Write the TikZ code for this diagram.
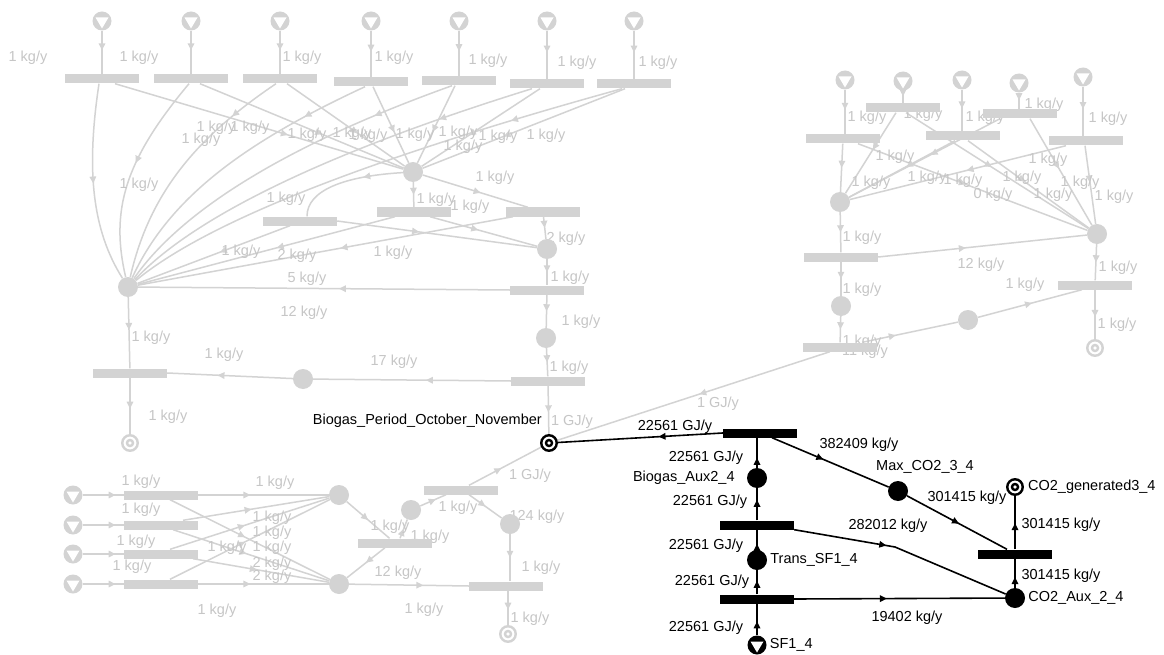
\documentclass[tikz,border=0pt]{standalone}
\usepackage{fontspec}
\setmainfont{Liberation Sans}
\usetikzlibrary{calc,arrows.meta,decorations.markings}
\definecolor{pale}{RGB}{211,211,211}
\definecolor{paletext}{RGB}{198,198,198}
\pgfdeclarelayer{bg}
\pgfsetlayers{bg,main}

\begin{document}
\begin{tikzpicture}[x=1pt,y=-1pt,font=\fontsize{14.5}{17}\selectfont,
	opunit/.style={rectangle,fill=#1,minimum width=74pt,minimum height=9pt,inner sep=0pt},
	matnode/.style={circle,fill=#1,minimum size=20pt,inner sep=0pt},
	rawnode/.style={circle,fill=#1,minimum size=19pt,inner sep=0pt,path picture={
		\fill[white] ([shift={(-6.5pt,3.5pt)}]path picture bounding box.center) -- ++(13pt,0pt)
			-- ([shift={(0pt,-7.5pt)}]path picture bounding box.center) -- cycle;}},
	prodnode/.style={circle,draw=#1,line width=2.4pt,minimum size=15.5pt,inner sep=0pt,path picture={
		\draw[#1,line width=2.4pt] (path picture bounding box.center) circle[radius=3pt];}},
	gflow/.style={pale,line width=1.5pt,postaction={decorate,decoration={markings,
		mark=at position #1 with {\arrow{Triangle[length=7pt,width=6.5pt]}}}}},
	gflow/.default=0.5,
	kflow/.style={black,line width=1.6pt,postaction={decorate,decoration={markings,
		mark=at position #1 with {\arrow{Triangle[length=7pt,width=6.5pt]}}}}},
	kflow/.default=0.5,
	gtxt/.style={text=paletext,inner sep=0pt},
	ktxt/.style={text=black,inner sep=0pt}]
\useasboundingbox (0,0) rectangle (1164,655);

% upper left network
\foreach \i/\x/\y in {1/102/79,2/191/79,3/280/79,4/371/82,5/459/81,6/547/84,7/634/84}{
	\node[rawnode=pale] (tl-r\i) at (\x,21) {};
	\node[opunit=pale] (tl-u\i) at (\x,\y) {};
}
\node[matnode=pale] (tl-m1) at (128,287) {};
\node[matnode=pale] (tl-m2) at (413,172) {};
\node[opunit=pale] (tl-u8) at (300,221) {};
\node[opunit=pale] (tl-u9) at (414,212) {};
\node[opunit=pale] (tl-u10) at (543,212) {};
\node[matnode=pale] (tl-m3) at (547,249) {};
\node[opunit=pale] (tl-u11) at (547,290) {};
\node[matnode=pale] (tl-m4) at (546,338) {};
\node[opunit=pale] (tl-u12) at (548,381) {};
\node[matnode=pale] (tl-m5) at (303,379) {};
\node[opunit=pale] (tl-u13) at (130,373) {};
\node[prodnode=pale] (tl-p) at (130,443) {};

% upper right network
\foreach \i/\x/\y/\ux/\uy in {1/845/80/843/139,2/903/81/903/108,3/962/80/963/136,4/1019/83/1020/114,5/1083/77/1086/141}{
	\node[rawnode=pale] (tr-r\i) at (\x,\y) {};
	\node[opunit=pale] (tr-u\i) at (\ux,\uy) {};
}
\node[matnode=pale] (tr-m1) at (840,202) {};
\node[matnode=pale] (tr-m2) at (1097,234) {};
\node[opunit=pale] (tr-u6) at (841,257) {};
\node[matnode=pale] (tr-m3) at (841,306) {};
\node[opunit=pale] (tr-u7) at (840,347) {};
\node[matnode=pale] (tr-m4) at (968,320) {};
\node[opunit=pale] (tr-u8) at (1095,285) {};
\node[prodnode=pale] (tr-p) at (1095,348) {};

% lower left network
\foreach \i/\y in {1/495,2/525,3/554,4/584}{
	\node[rawnode=pale] (bl-r\i) at (73,\y) {};
	\node[opunit=pale] (bl-u\i) at (161,\y) {};
}
\node[matnode=pale] (bl-m1) at (339,495) {};
\node[matnode=pale] (bl-m2) at (339,584) {};
\node[opunit=pale] (bl-u5) at (395,543) {};
\node[matnode=pale] (bl-m3) at (411,510) {};
\node[opunit=pale] (bl-u6) at (461,490) {};
\node[matnode=pale] (bl-m4) at (510,524) {};
\node[opunit=pale] (bl-u7) at (506,586) {};
\node[prodnode=pale] (bl-p) at (508,634) {};

% selected structure
\node[prodnode=black] (bio) at (549,443) {};
\node[opunit=black] (k-u1) at (760,433) {};
\node[matnode=black] (k-aux) at (757,478) {};
\node[opunit=black] (k-u2) at (757,525) {};
\node[matnode=black] (k-tr) at (757,560) {};
\node[opunit=black] (k-u3) at (757,599) {};
\node[rawnode=black] (k-sf) at (757,645) {};
\node[matnode=black] (k-max) at (898,491) {};
\node[prodnode=black] (k-gen) at (1015,487) {};
\node[opunit=black] (k-u4) at (1015,554) {};
\node[matnode=black] (k-co2) at (1015,598) {};
\coordinate (k-bend) at (895,547);

\node[ktxt,anchor=east] (bio-t) at (542,421) {Biogas\_Period\_October\_November};
\node[ktxt,anchor=east] (k-aux-t) at ([xshift=-12pt]k-aux.west) {Biogas\_Aux2\_4};
\node[ktxt,anchor=west] (k-tr-t) at ([xshift=3pt]k-tr.east) {Trans\_SF1\_4};
\node[ktxt,anchor=west] (k-sf-t) at ([xshift=3pt]k-sf.east) {SF1\_4};
\node[ktxt] (k-max-t) at (925,467) {Max\_CO2\_3\_4};
\node[ktxt,anchor=west] (k-gen-t) at ([xshift=4pt]k-gen.east) {CO2\_generated3\_4};
\node[ktxt,anchor=west] (k-co2-t) at ([xshift=3pt]k-co2.east) {CO2\_Aux\_2\_4};
\foreach \x/\y [count=\n] in {675/427,706/458,710/502,706/546,712/582,706/628}
	\node[ktxt] (kg\n) at (\x,\y) {22561 GJ/y};
\foreach \x/\y/\v [count=\n] in {859/445/382409,967/498/301415,1061/525/301415,1061/576/301415,888/526/282012,907/618/19402}
	\node[ktxt] (kk\n) at (\x,\y) {\v{} kg/y};

\begin{pgfonlayer}{bg}
\fill[white] (0,0) rectangle (1164,655);
% upper left flows
\foreach \i in {1,...,7} \draw[gflow=0.45] (tl-r\i) -- (tl-u\i);
\draw[gflow] ([xshift=-3pt]tl-u1.south) .. controls (86,170) and (92,230) .. (tl-m1);
\draw[gflow=0.45] ([xshift=-2pt]tl-u2.south) .. controls (125,160) and (110,210) .. (tl-m1);
\draw[gflow=0.22] ([xshift=-4pt]tl-u3.south) .. controls (200,135) and (150,190) .. (tl-m1);
\draw[gflow=0.22] ([xshift=-6pt]tl-u4.south) .. controls (250,140) and (170,195) .. (tl-m1);
\draw[gflow=0.22] ([xshift=-7pt]tl-u5.south) .. controls (300,140) and (185,205) .. (tl-m1);
\draw[gflow=0.22] ([xshift=-15pt]tl-u6.south) .. controls (350,145) and (200,210) .. (tl-m1);
\draw[gflow=0.22] ([xshift=-12pt]tl-u7.south) .. controls (400,150) and (215,215) .. (tl-m1);
\foreach \i/\s in {1/13,2/9,3/7,4/2,5/-4,6/-7,7/-9} \draw[gflow=0.6] ([xshift=\s pt]tl-u\i.south) -- (tl-m2);
\draw[gflow=0.35] (tl-m2) .. controls (345,176) and (307,190) .. ([xshift=7pt]tl-u8.north);
\draw[gflow] (tl-m2) -- (tl-u9);
\draw[gflow=0.55] (tl-m2) -- ([xshift=-15pt]tl-u10.north);
\draw[gflow=0.41] (tl-u8.east) -- (tl-m3);
\draw[gflow=0.45] ([xshift=16pt]tl-u9.south) -- (tl-m3);
\draw[gflow] (tl-u10) -- (tl-m3);
\draw[gflow=0.46] ([xshift=-10pt]tl-u8.south) -- (tl-m1);
\draw[gflow=0.46] ([xshift=-19pt]tl-u9.south) -- (tl-m1);
\draw[gflow=0.46] ([xshift=-30pt]tl-u10.south) -- (tl-m1);
\draw[gflow=0.46] (tl-u11.west) -- (tl-m1);
\draw[gflow] (tl-m3) -- (tl-u11);
\draw[gflow] (tl-u11) -- (tl-m4);
\draw[gflow] (tl-m4) -- (tl-u12);
\draw[gflow=0.43] (tl-u12.west) -- (tl-m5);
\draw[gflow=0.6] (tl-m5) -- (tl-u13.east);
\draw[gflow=0.46] (tl-m1) -- (tl-u13);
\draw[gflow=0.55] (tl-u13) -- (tl-p);
\draw[gflow=0.55] (tl-u12) -- (bio);
% upper right flows
\foreach \i in {1,...,5} \draw[gflow=0.45] (tr-r\i) -- (tr-r\i |- tr-u\i.north);
\draw[gflow] (tr-u1) -- (tr-m1);
\draw[gflow=0.47] ([xshift=15pt]tr-u1.south) -- (tr-m2);
\foreach \i/\a/\b in {2/-7/3,3/-8/5,4/-20/10,5/-20/-1}{
	\draw[gflow=0.46] ([xshift=\a pt]tr-u\i.south) -- (tr-m1);
	\draw[gflow=0.47] ([xshift=\b pt]tr-u\i.south) -- (tr-m2);
}
\draw[gflow] (tr-m1) -- (tr-u6);
\draw[gflow=0.42] (tr-u6.east) -- (tr-m2);
\draw[gflow] (tr-u6) -- (tr-m3);
\draw[gflow] (tr-m3) -- (tr-u7);
\draw[gflow=0.35] (tr-u7) -- (tr-m4);
\draw[gflow=0.52] (tr-m4) -- ([xshift=-13pt]tr-u8.south);
\draw[gflow] (tr-m2) -- (tr-u8);
\draw[gflow=0.55] (tr-u8) -- (tr-p);
\draw[gflow=0.48] ([xshift=-10pt]tr-u7.south) -- (bio);
% lower left flows
\foreach \i in {1,...,4} \draw[gflow=0.8] (bl-r\i) -- (bl-u\i);
\draw[gflow=0.4] (bl-u1.east) -- (bl-m1);
\draw[gflow=0.47] ([xshift=9pt]bl-u1.south) -- (bl-m2);
\draw[gflow=0.47] ([xshift=22pt]bl-u2.north) -- (bl-m1);
\draw[gflow=0.47] ([xshift=12pt]bl-u2.south) -- (bl-m2);
\draw[gflow=0.47] ([xshift=9pt]bl-u3.north) -- (bl-m1);
\draw[gflow=0.47] ([xshift=32pt]bl-u3.south) -- (bl-m2);
\draw[gflow=0.47] ([xshift=9pt]bl-u4.north) -- (bl-m1);
\draw[gflow=0.4] (bl-u4.east) -- (bl-m2);
\draw[gflow] (bl-m1) -- (bl-u5);
\draw[gflow] ([xshift=-10pt]bl-u5.south) -- (bl-m2);
\draw[gflow] ([xshift=5pt]bl-u5.north) -- (bl-m3);
\draw[gflow=0.6] (bl-m3) -- ([xshift=-15pt]bl-u6.south);
\draw[gflow=0.45] ([xshift=8pt]bl-u6.north) -- (bio);
\draw[gflow] ([xshift=8pt]bl-u6.south) -- (bl-m4);
\draw[gflow] (bl-m4) -- (bl-m4 |- bl-u7.north);
\draw[gflow=0.62] (bl-m2) -- (bl-u7.west);
\draw[gflow=0.55] (bl-p |- bl-u7.south) -- (bl-p);
% selected flows
\draw[kflow=0.44] (k-sf) -- (k-sf |- k-u3.south);
\draw[kflow=0.56] (k-u3) -- (k-tr);
\draw[kflow=0.3] (k-tr) -- (k-u2);
\draw[kflow=0.64] (k-u2) -- (k-aux);
\draw[kflow=0.33] (k-aux) -- (k-aux |- k-u1.south);
\draw[kflow=0.39] (k-u1.west) -- (bio);
\draw[kflow=0.44] ([xshift=12pt]k-u1.south) -- (k-max);
\draw[kflow=0.52] (k-max) -- ([xshift=-8pt]k-u4.north);
\draw[kflow=0.42] (k-u2.south east) -- (k-bend) -- (k-co2);
\draw[kflow=0.44] (k-u3.east) -- (k-co2);
\draw[kflow=0.37] (k-co2) -- (k-u4);
\draw[kflow=0.49] (k-u4) -- (k-gen);
% pale labels
\foreach \x/\y/\v [count=\n] in {28/58/1,139/58/1,302/58/1,394/58/1,488/61/1,577/63/1,658/63/1,
	216/128/1,250/128/1,201/140/1,307/135/1,352/134/1,368/136/1,415/135/1,458/133/1,463/147/1,498/137/1,546/136/1,
	139/185/1,286/199/1,495/178/1,436/200/1,470/207/1,566/239/2,393/253/1,241/252/1,297/256/2,307/279/5,304/313/12,
	570/278/1,581/322/1,569/368/1,394/362/17,224/355/1,151/338/1,168/417/1,
	867/118/1,923/115/1,985/118/1,1044/105/1,1108/119/1,895/157/1,1048/160/1,871/183/1,927/178/1,963/181/1,
	993/195/0,1022/178/1,1053/195/1,1080/183/1,1114/197/1,862/238/1,981/265/12,1118/268/1,862/290/1,1025/285/1,
	1117/325/1,862/342/1,865/352/11,
	141/482/1,141/510/1,136/542/1,132/567/1,275/483/1,272/518/1,272/533/1,227/548/1,272/548/1,272/564/2,272/577/2,
	217/611/1,390/527/1,430/537/1,398/573/12,424/610/1,458/508/1,537/517/124,541/568/1,530/619/1}
	\node[gtxt] (gl\n) at (\x,\y) {\v{} kg/y};
\foreach \x/\y [count=\n] in {572/422,718/404,530/476}
	\node[gtxt] (gj\n) at (\x,\y) {1 GJ/y};
\end{pgfonlayer}
\end{tikzpicture}
\end{document}
